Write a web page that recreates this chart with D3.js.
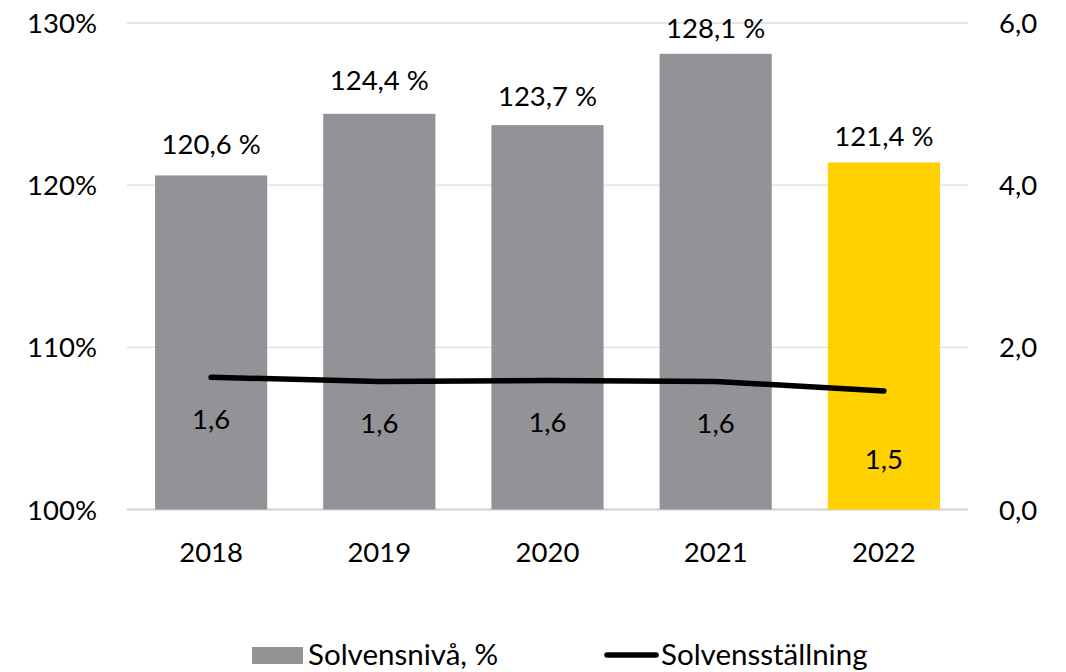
<!DOCTYPE html>
<html><head><meta charset="utf-8">
<script src="https://cdn.jsdelivr.net/npm/d3@7"></script>
<style>
html,body{margin:0;padding:0;background:#fff;}
text{font-family:Lato,"Open Sans",sans-serif;fill:#000;}
</style></head>
<body><svg id="c" width="1066" height="672"></svg>
<script>
const years = ["2018","2019","2020","2021","2022"];
const solvensniva = [120.6,124.4,123.7,128.1,121.4];
const solvensstallning = [1.63,1.58,1.59,1.58,1.46];
const stallningLabels = ["1,6","1,6","1,6","1,6","1,5"];
const barLabels = ["120,6 %","124,4 %","123,7 %","128,1 %","121,4 %"];
const leftTicks = [100,110,120,130];
const rightTicks = [0,2,4,6];
const barColors = ["#939297","#939297","#939297","#939297","#FFD100"];
const barLabelOffset = [31,33,29,25.5,26];
const lineLabelOffset = [42,42,42,42,68];

const svg = d3.select("#c");
const m = {l:127,r:968,t:23,b:509.5};
const fs = 27.5;
const x = d3.scaleBand().domain(years).range([m.l,m.r]).paddingInner(0.333).paddingOuter(0.1667);
const yL = d3.scaleLinear().domain([100,130]).range([m.b,m.t]);
const yR = d3.scaleLinear().domain([0,6]).range([m.b,m.t]);

// gridlines
svg.append("g").selectAll("line").data(leftTicks).join("line")
  .attr("x1",m.l).attr("x2",m.r).attr("y1",d=>yL(d)).attr("y2",d=>yL(d))
  .attr("stroke",d=>d===100?"#d0d0d0":"#dedede").attr("stroke-width",d=>d===100?2:1.3);

// left axis
const la = svg.append("g").attr("transform",`translate(${m.l},0)`)
  .call(d3.axisLeft(yL).tickValues(leftTicks).tickSize(0).tickPadding(30).tickFormat(d=>d+"%"));
la.select(".domain").remove();
la.selectAll("text").style("font-size",fs+"px").attr("dy","0.35em").style("font-family","Lato,sans-serif");

// right axis
const ra = svg.append("g").attr("transform",`translate(${m.r},0)`)
  .call(d3.axisRight(yR).tickValues(rightTicks).tickSize(0).tickPadding(31).tickFormat(d=>d.toFixed(1).replace(".",",")));
ra.select(".domain").remove();
ra.selectAll("text").style("font-size",fs+"px").attr("dy","0.35em").style("font-family","Lato,sans-serif");

// x axis
const xa = svg.append("g").attr("transform",`translate(0,${m.b})`)
  .call(d3.axisBottom(x).tickSize(0).tickPadding(42));
xa.select(".domain").remove();
xa.selectAll("text").style("font-size",fs+"px").attr("dy","0em").attr("dominant-baseline","central").style("font-family","Lato,sans-serif");

// bars
svg.append("g").selectAll("rect").data(years).join("rect")
  .attr("x",d=>x(d)).attr("width",x.bandwidth())
  .attr("y",(d,i)=>yL(solvensniva[i])).attr("height",(d,i)=>yL(100)-yL(solvensniva[i]))
  .attr("fill",(d,i)=>barColors[i]);

// bar labels
svg.append("g").selectAll("text").data(years).join("text")
  .attr("x",d=>x(d)+x.bandwidth()/2).attr("y",(d,i)=>yL(solvensniva[i])-barLabelOffset[i])
  .attr("dy","0.35em").attr("text-anchor","middle").style("font-size",fs+"px")
  .text((d,i)=>barLabels[i]);

// line
const line = d3.line().x((d,i)=>x(years[i])+x.bandwidth()/2).y(d=>yR(d));
svg.append("path").datum(solvensstallning).attr("d",line)
  .attr("fill","none").attr("stroke","#000").attr("stroke-width",5.5)
  .attr("stroke-linecap","round").attr("stroke-linejoin","round");

// line labels
svg.append("g").selectAll("text").data(years).join("text")
  .attr("x",d=>x(d)+x.bandwidth()/2).attr("y",(d,i)=>yR(solvensstallning[i])+lineLabelOffset[i])
  .attr("dy","0.35em").attr("text-anchor","middle").style("font-size",fs+"px")
  .text((d,i)=>stallningLabels[i]);

// legend
const lg = svg.append("g");
lg.append("rect").attr("x",252).attr("y",647).attr("width",51).attr("height",17).attr("fill",barColors[0]);
lg.append("text").attr("x",308).attr("y",655).attr("dy","0.35em").style("font-size","29.5px").text("Solvensnivå, %");
lg.append("line").attr("x1",607).attr("x2",656).attr("y1",655).attr("y2",655)
  .attr("stroke","#000").attr("stroke-width",5.5).attr("stroke-linecap","round");
lg.append("text").attr("x",661).attr("y",655).attr("dy","0.35em").style("font-size","29.5px").text("Solvensställning");
</script></body></html>
